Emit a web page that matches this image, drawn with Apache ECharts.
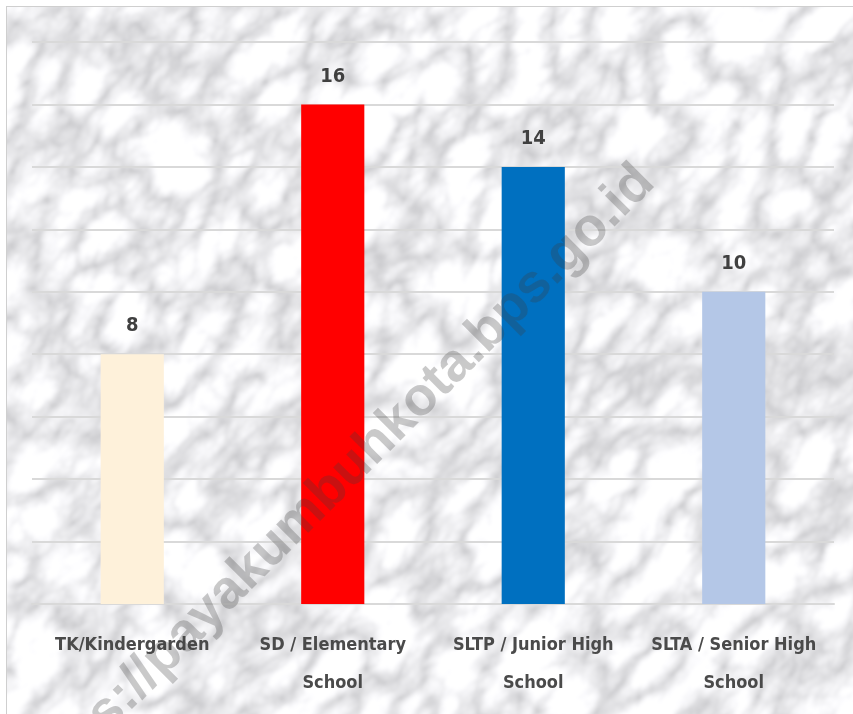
<!DOCTYPE html>
<html>
<head>
<meta charset="utf-8">
<script src="https://cdn.jsdelivr.net/npm/echarts@6/dist/echarts.min.js"></script>
<style>
  html, body { margin: 0; padding: 0; background: #ffffff; }
  #wrap { position: relative; width: 853px; height: 714px; overflow: hidden; }
  #bg { position: absolute; left: 6px; top: 6px; right: 0; bottom: 0;
        border-left: 1px solid #cfcfcf; border-top: 1px solid #cfcfcf; overflow: hidden; background: #e6e7ea; }
  #bg svg { display: block; }
  #chart { position: absolute; left: 0; top: 0; width: 853px; height: 714px; }
</style>
</head>
<body>
<div id="wrap">
  <div id="bg">
    <svg width="860" height="720" xmlns="http://www.w3.org/2000/svg">
      <defs>
        <filter id="marble" filterUnits="userSpaceOnUse" x="-600" y="-600" width="2200" height="2200">
          <feTurbulence type="turbulence" baseFrequency="0.013 0.022" numOctaves="5" seed="7" result="t"/>
          <feColorMatrix in="t" type="matrix"
            values="1.0 0 0 0 0.56
                    1.0 0 0 0 0.56
                    1.0 0 0 0 0.58
                    0 0 0 0 1" result="g"/>
          <feGaussianBlur in="g" stdDeviation="1.8"/>
        </filter>
      </defs>
      <g transform="rotate(-50 430 360)">
        <rect x="-600" y="-600" width="2200" height="2200" filter="url(#marble)"/>
      </g>
    </svg>
  </div>
  <div id="chart"></div>
</div>
<script>
const categories = ['TK/Kindergarden', 'SD / Elementary\nSchool', 'SLTP / Junior High\nSchool', 'SLTA / Senior High\nSchool'];
const values = [8, 16, 14, 10];
const barColors = ['#FEF1DA', '#FF0000', '#0070C0', '#B4C7E7'];
const watermark = 'https://payakumbuhkota.bps.go.id';

const font = "'Liberation Sans Narrow', 'DejaVu Sans Condensed', 'Liberation Sans', sans-serif";
const chart = echarts.init(document.getElementById('chart'), null, { renderer: 'canvas' });
chart.setOption({
  backgroundColor: 'transparent',
  animation: false,
  grid: { left: 32, right: 19, top: 42, bottom: 110, containLabel: false },
  xAxis: {
    type: 'category',
    data: categories,
    axisLine: { show: true, lineStyle: { color: '#d9d9d9', width: 2 } },
    axisTick: { show: false },
    axisLabel: {
      color: '#4a4a4a', fontFamily: font, fontWeight: 'bold', fontSize: 18,
      lineHeight: 38, margin: 22, interval: 0
    }
  },
  yAxis: {
    type: 'value', min: 0, max: 18, interval: 2,
    axisLabel: { show: false }, axisLine: { show: false }, axisTick: { show: false },
    splitLine: { show: true, lineStyle: { color: '#d9d9d9', width: 2 } }
  },
  series: [{
    type: 'bar',
    data: values.map((v, i) => ({ value: v, itemStyle: { color: barColors[i] } })),
    barWidth: '31.5%',
    label: {
      show: true, position: 'top', distance: 18,
      color: '#404040', fontFamily: font, fontWeight: 'bold', fontSize: 20
    }
  }],
  graphic: [{
    type: 'text',
    x: 646, y: 174,
    rotation: 45 * Math.PI / 180,
    z: 100,
    silent: true,
    style: {
      text: watermark,
      x: 0, y: 0,
      align: 'right', verticalAlign: 'middle',
      font: "bold 54px 'Liberation Sans', Arial, sans-serif",
      fill: 'rgba(60,60,60,0.28)'
    }
  }]
});
</script>
</body>
</html>
